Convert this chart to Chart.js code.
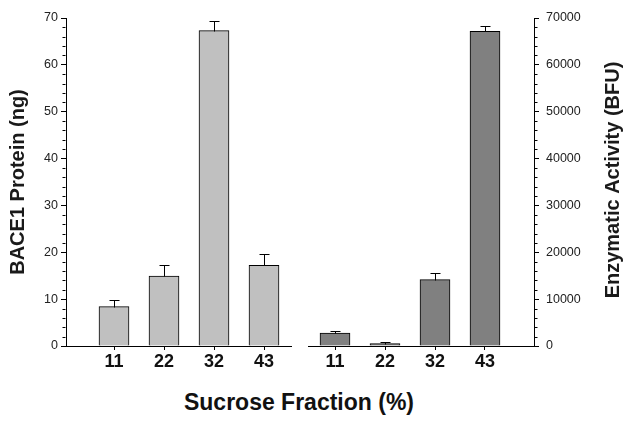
<!DOCTYPE html>
<html><head><meta charset="utf-8">
<script src="https://cdn.jsdelivr.net/npm/chart.js@4/dist/chart.umd.min.js"></script>
<style>
html,body{margin:0;padding:0;background:#fff;}
#wrap{position:relative;width:624px;height:422px;overflow:hidden;background:#fff;}
#c1{position:absolute;left:0;top:0;}
#c2{position:absolute;left:300px;top:0;}
#xt{position:absolute;left:0;width:598px;top:389px;line-height:26px;text-align:center;font:bold 23px "Liberation Sans",Arial,sans-serif;color:#111;white-space:nowrap;}
</style></head><body>
<div id="wrap">
<canvas id="c1" width="300" height="380"></canvas>
<canvas id="c2" width="324" height="380"></canvas>
<div id="xt"></div>
</div>
<script>
// ---- data ----
const categories = ['11', '22', '32', '43'];
const proteinValues = [8.4, 14.9, 67.3, 17.2];
const proteinErrors = [1.35, 2.4, 2.1, 2.5];
const activityValues = [2750, 500, 14150, 67150];
const activityErrors = [550, 250, 1500, 1150];
const proteinTicks = [0, 10, 20, 30, 40, 50, 60, 70];
const activityTicks = [0, 10000, 20000, 30000, 40000, 50000, 60000, 70000];
const leftYTitle = 'BACE1 Protein (ng)';
const rightYTitle = 'Enzymatic Activity (BFU)';
const xTitle = 'Sucrose Fraction (%)';

document.getElementById('xt').textContent = xTitle;

const FONT = '"Liberation Sans", Arial, sans-serif';
const TXT = '#1a1a1a';

const errorBarPlugin = {
  id: 'errorBars',
  afterDatasetsDraw(chart, args, opts) {
    const ctx = chart.ctx;
    const ys = chart.scales.y;
    const ds = chart.data.datasets[0];
    const meta = chart.getDatasetMeta(0);
    ctx.save();
    ctx.strokeStyle = '#000';
    ctx.lineWidth = 1;
    meta.data.forEach((bar, i) => {
      const v = ds.data[i].y;
      const e = opts.errors[i];
      const x = Math.round(bar.x) + 0.5;
      const y0 = Math.round(bar.y) + 0.5;
      const y1 = Math.round(ys.getPixelForValue(v + e)) + 0.5;
      ctx.beginPath();
      ctx.moveTo(x, y0);
      ctx.lineTo(x, y1);
      ctx.moveTo(x - 5, y1);
      ctx.lineTo(x + 5, y1);
      ctx.stroke();
    });
    ctx.restore();
  }
};

const minorTickPlugin = {
  id: 'minorTicks',
  afterDraw(chart, args, opts) {
    const ys = chart.scales.y;
    const ctx = chart.ctx;
    const right = ys.position === 'right';
    const ax = right ? chart.chartArea.right : chart.chartArea.left;
    ctx.save();
    ctx.strokeStyle = '#000';
    ctx.lineWidth = 1;
    for (let v = ys.min; v <= ys.max + 1e-9; v += opts.step) {
      if (Math.abs(v % opts.major) < 1e-9) continue;
      const y = Math.round(ys.getPixelForValue(v)) + 0.5;
      ctx.beginPath();
      const xx = Math.round(ax) + (right ? 0.5 : -0.5);
      ctx.moveTo(xx, y);
      ctx.lineTo(right ? xx + opts.length : xx - opts.length, y);
      ctx.stroke();
    }
    if (opts.title) {
      ctx.fillStyle = TXT;
      ctx.font = 'bold 20px ' + FONT;
      ctx.textAlign = 'center';
      ctx.textBaseline = 'middle';
      ctx.translate(ys.right - 11, (chart.chartArea.top + chart.chartArea.bottom) / 2 - 2);
      ctx.rotate(-Math.PI / 2);
      ctx.fillText(opts.title, 0, 0);
    }
    ctx.restore();
  }
};

function makeChart(id, values, errors, ticks, yMax, minorStep, majorStep, color, side, xMin, xMax, yTitle) {
  const isLeft = side === 'left';
  return new Chart(document.getElementById(id), {
    type: 'bar',
    data: {
      datasets: [{
        data: values.map((v, i) => ({ x: i + 1, y: v })),
        backgroundColor: color,
        borderColor: '#000',
        borderWidth: 1,
        barThickness: 30
      }]
    },
    options: {
      responsive: false,
      animation: false,
      devicePixelRatio: 1,
      layout: { padding: isLeft ? { top: 18, right: 9, left: 0, bottom: 0 } : { top: 18, right: 0, left: 8, bottom: 0 } },
      plugins: {
        legend: { display: false },
        tooltip: { enabled: false },
        errorBars: { errors: errors },
        minorTicks: { step: minorStep, major: majorStep, length: 3, title: isLeft ? null : yTitle }
      },
      scales: {
        x: {
          type: 'linear',
          min: xMin,
          max: xMax,
          offset: false,
          afterBuildTicks: s => { s.ticks = categories.map((c, i) => ({ value: i + 1 })); },
          afterFit: s => { s.height = 34; },
          grid: { display: true, drawOnChartArea: false, offset: false, tickLength: 4, tickColor: '#000' },
          border: { display: true, color: '#000', width: 1 },
          ticks: {
            autoSkip: false, maxRotation: 0, padding: 1,
            color: '#111',
            font: { family: FONT, size: 18, weight: 'bold' },
            callback: (v, i) => categories[i]
          }
        },
        y: {
          position: side,
          min: 0,
          max: yMax,
          afterBuildTicks: s => { s.ticks = ticks.map(v => ({ value: v })); },
          afterFit: s => { s.width = isLeft ? 66 : 90; },
          grid: { display: true, drawOnChartArea: false, tickLength: 5, tickColor: '#000' },
          border: { display: true, color: '#000', width: 1 },
          title: isLeft ? {
            display: true, text: yTitle, color: TXT,
            font: { family: FONT, size: 20, weight: 'bold' },
            padding: { top: 6, bottom: 0 }
          } : { display: false },
          ticks: {
            padding: isLeft ? 3 : 7,
            color: '#222',
            font: { family: FONT, size: 12.5 },
            callback: v => String(v)
          }
        }
      }
    },
    plugins: [errorBarPlugin, minorTickPlugin]
  });
}

makeChart('c1', proteinValues, proteinErrors, proteinTicks, 70, 2, 10, '#c0c0c0', 'left', 0.04, 4.54, leftYTitle);
makeChart('c2', activityValues, activityErrors, activityTicks, 70000, 2000, 10000, '#808080', 'right', 0.46, 4.98, rightYTitle);
</script>
</body></html>
